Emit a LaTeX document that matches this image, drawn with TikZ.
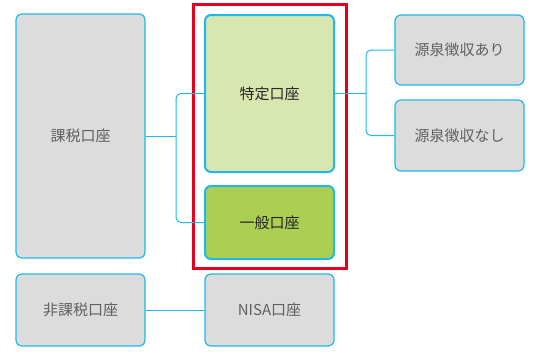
\documentclass[tikz,border=0pt]{standalone}
\usepackage{fontspec}
\setmainfont{Noto Sans CJK JP}
\definecolor{boxgray}{HTML}{DCDCDC}
\definecolor{edgecyan}{HTML}{1EB9EA}
\definecolor{lightgreen}{HTML}{D8E6B0}
\definecolor{midgreen}{HTML}{AACF52}
\definecolor{redframe}{HTML}{E60020}
\definecolor{txtgray}{HTML}{606060}
\begin{document}
\begin{tikzpicture}[x=1pt,y=-1pt,
  box/.style={draw=edgecyan,line width=1.2pt,rounded corners=6pt,fill=boxgray,text=txtgray,
     font=\fontsize{15}{18}\selectfont,inner sep=0pt},
  gbox/.style={box,line width=2pt,text=black!85},
  conn/.style={draw=edgecyan,line width=1pt,rounded corners=5pt}]
\useasboundingbox (0,0) rectangle (540,360);
% red frame
\draw[redframe,line width=3pt] (193,4) rectangle (346.5,268);
% nodes
\node[box,minimum width=129pt,minimum height=244pt] (kazei) at (80.5,136) {課税口座};
\node[gbox,fill=lightgreen,minimum width=129pt,minimum height=157pt] (tokutei) at (269.5,93.5) {特定口座};
\node[gbox,fill=midgreen,minimum width=129pt,minimum height=73pt] (ippan) at (269.5,222.5) {一般口座};
\node[box,minimum width=129pt,minimum height=70pt] (ari) at (459.5,50) {源泉徴収あり};
\node[box,minimum width=129pt,minimum height=71pt] (nashi) at (459.5,135.5) {源泉徴収なし};
\node[box,minimum width=129pt,minimum height=72pt] (hikazei) at (80.5,310) {非課税口座};
\node[box,minimum width=129pt,minimum height=72pt] (nisa) at (269.5,310) {NISA口座};
% connectors
\coordinate (j1) at (176,136);
\coordinate (j2) at (366,93.5);
\draw[conn] (kazei.east) -- (j1);
\draw[conn] (tokutei.west) -| (j1) |- (ippan.west);
\draw[conn] (tokutei.east) -- (j2);
\draw[conn] (ari.west) -| (j2) |- (nashi.west);
\draw[conn] (hikazei.east) -- (nisa.west);
\end{tikzpicture}
\end{document}
